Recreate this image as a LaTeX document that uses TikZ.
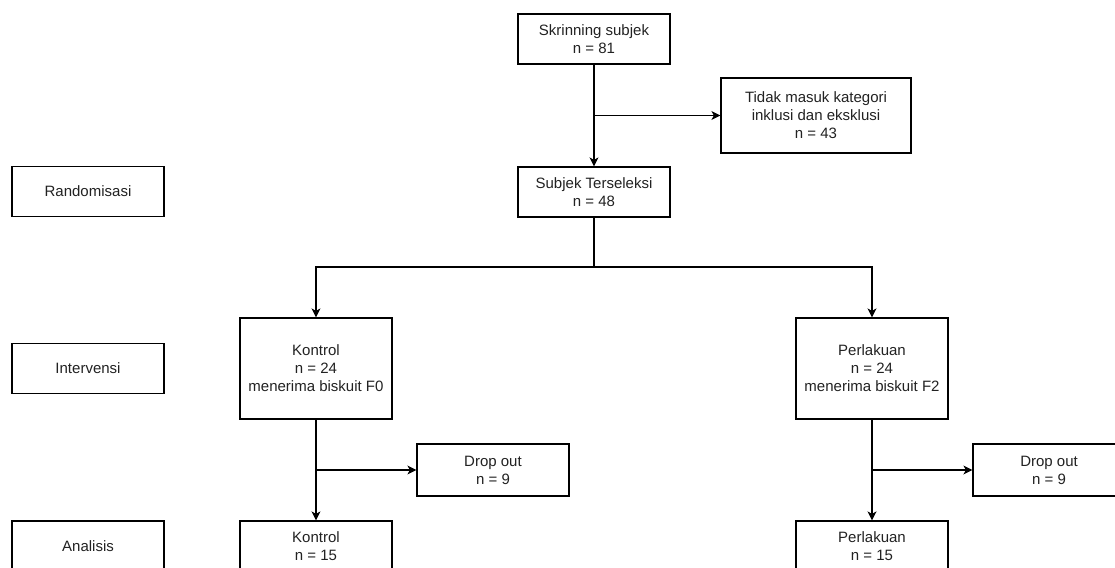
\documentclass[tikz,border=0pt]{standalone}
\usepackage{fontspec}
\setmainfont{Liberation Sans}
\usetikzlibrary{arrows.meta}
\definecolor{txt}{HTML}{222222}
\tikzset{
  box/.style={draw=black, line width=1.2pt, fill=white, minimum width=152pt, minimum height=50pt,
    inner sep=0pt, align=center, text=txt, font=\fontsize{15}{18}\selectfont},
  conn/.style={line width=1.2pt, draw=black},
  arr/.style={conn, -{Stealth[length=9pt,width=9pt,inset=2.5pt]}}
}
\begin{document}
\begin{tikzpicture}[x=1pt,y=-1pt]
\clip (0,0) rectangle (1115,567);
\fill[white] (0,0) rectangle (1115,567);
% side labels
\node[box] (rand) at (88,191.5) {Randomisasi};
\node[box] (interv) at (88,368.5) {Intervensi};
\node[box] (anal) at (88,546) {Analisis};
% main flow
\node[box] (skr) at (594,39) {Skrinning subjek\\n = 81};
\node[box, minimum width=190pt, minimum height=75pt] (tidak) at (816,115.5) {Tidak masuk kategori\\inklusi dan eksklusi\\n = 43};
\node[box] (sel) at (594,192) {Subjek Terseleksi\\n = 48};
\node[box, minimum height=101pt] (kon) at (316,368.5) {Kontrol\\n = 24\\menerima biskuit F0};
\node[box, minimum height=101pt] (per) at (872,368.5) {Perlakuan\\n = 24\\menerima biskuit F2};
\node[box, minimum height=52pt] (drop1) at (493,470) {Drop out\\n = 9};
\node[box, minimum height=52pt] (drop2) at (1049,470) {Drop out\\n = 9};
\node[box] (kon2) at (316,546) {Kontrol\\n = 15};
\node[box] (per2) at (872,546) {Perlakuan\\n = 15};
% connectors
\coordinate (b1) at (594,115.5);
\coordinate (split) at (594,267);
\coordinate (b2) at (316,470);
\coordinate (b3) at (872,470);
\draw[arr] (skr.south) -- (sel.north);
\draw[arr] (b1) -- (tidak.west);
\draw[conn] (sel.south) -- (split);
\draw[arr] (split) -| (kon.north);
\draw[arr] (split) -| (per.north);
\draw[arr] (kon.south) -- (kon2.north);
\draw[arr] (b2) -- (drop1.west);
\draw[arr] (per.south) -- (per2.north);
\draw[arr] (b3) -- (drop2.west);
\end{tikzpicture}
\end{document}
